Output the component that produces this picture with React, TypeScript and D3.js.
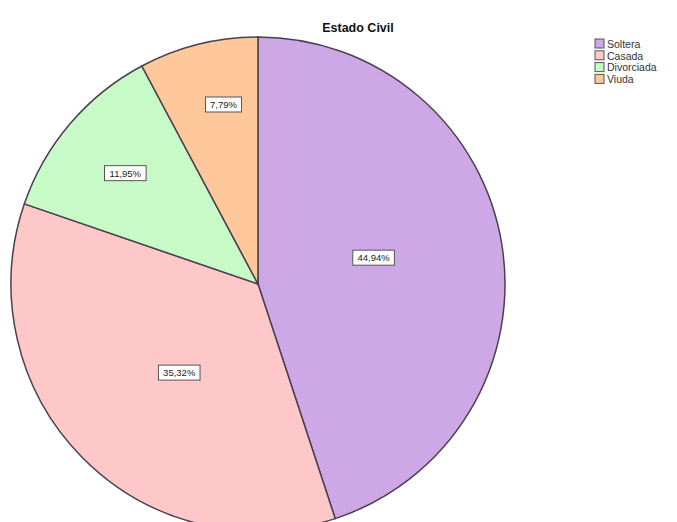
import React from "react";
import * as d3 from "d3";

const categories = ["Soltera", "Casada", "Divorciada", "Viuda"];
const values = [44.94, 35.32, 11.95, 7.79];
const labels = ["44,94%", "35,32%", "11,95%", "7,79%"];
const colors = ["#cea8e6", "#fec8c8", "#c8fac8", "#fec89a"];

const W = 677;
const H = 522;
const cx = 258;
const cy = 284;
const R = 247;

function labelPlacement(frac: number) {
  if (frac > 0.3) return { r: 0.48, nudge: -0.065 };
  if (frac > 0.1) return { r: 0.7, nudge: -0.01 };
  return { r: 0.74, nudge: 0.055 };
}

export default function App() {
  const pie = d3.pie<number>().sort(null).value((d) => d)(values);
  const arc = d3.arc<d3.PieArcDatum<number>>().innerRadius(0).outerRadius(R);
  const total = d3.sum(values);
  return (
    <svg width={W} height={H} style={{ position: "absolute", left: 0, top: 0, background: "#fff" }}
      fontFamily="Arial, Liberation Sans, sans-serif">
      <text x={358} y={32} textAnchor="middle" fontWeight="bold" fontSize={12.5} fill="#111">Estado Civil</text>
      <g transform={`translate(${cx},${cy})`}>
        {pie.map((p, i) => (
          <path key={i} d={arc(p) || ""} fill={colors[i]} stroke="#4a4050" strokeWidth={1.5} />
        ))}
        {pie.map((p, i) => {
          const { r, nudge } = labelPlacement(values[i] / total);
          const lr = R * r;
          const a = (p.startAngle + p.endAngle) / 2 + nudge;
          const x = lr * Math.sin(a);
          const y = -lr * Math.cos(a);
          const w = labels[i].length * 5.6 + 8;
          return (
            <g key={"l" + i} transform={`translate(${x},${y})`}>
              <rect x={-w / 2} y={-7.5} width={w} height={15} fill="#fff" stroke="#555" strokeWidth={1} />
              <text x={0} y={3.5} textAnchor="middle" fontSize={9.5} fill="#222">{labels[i]}</text>
            </g>
          );
        })}
      </g>
      <g transform="translate(595,39)">
        {categories.map((c, i) => (
          <g key={c} transform={`translate(0,${i * 11.8})`}>
            <rect x={0} y={0} width={9} height={9} fill={colors[i]} stroke="#555" strokeWidth={1} />
            <text x={12} y={8.8} fontSize={10.5} fill="#333">{c}</text>
          </g>
        ))}
      </g>
    </svg>
  );
}
